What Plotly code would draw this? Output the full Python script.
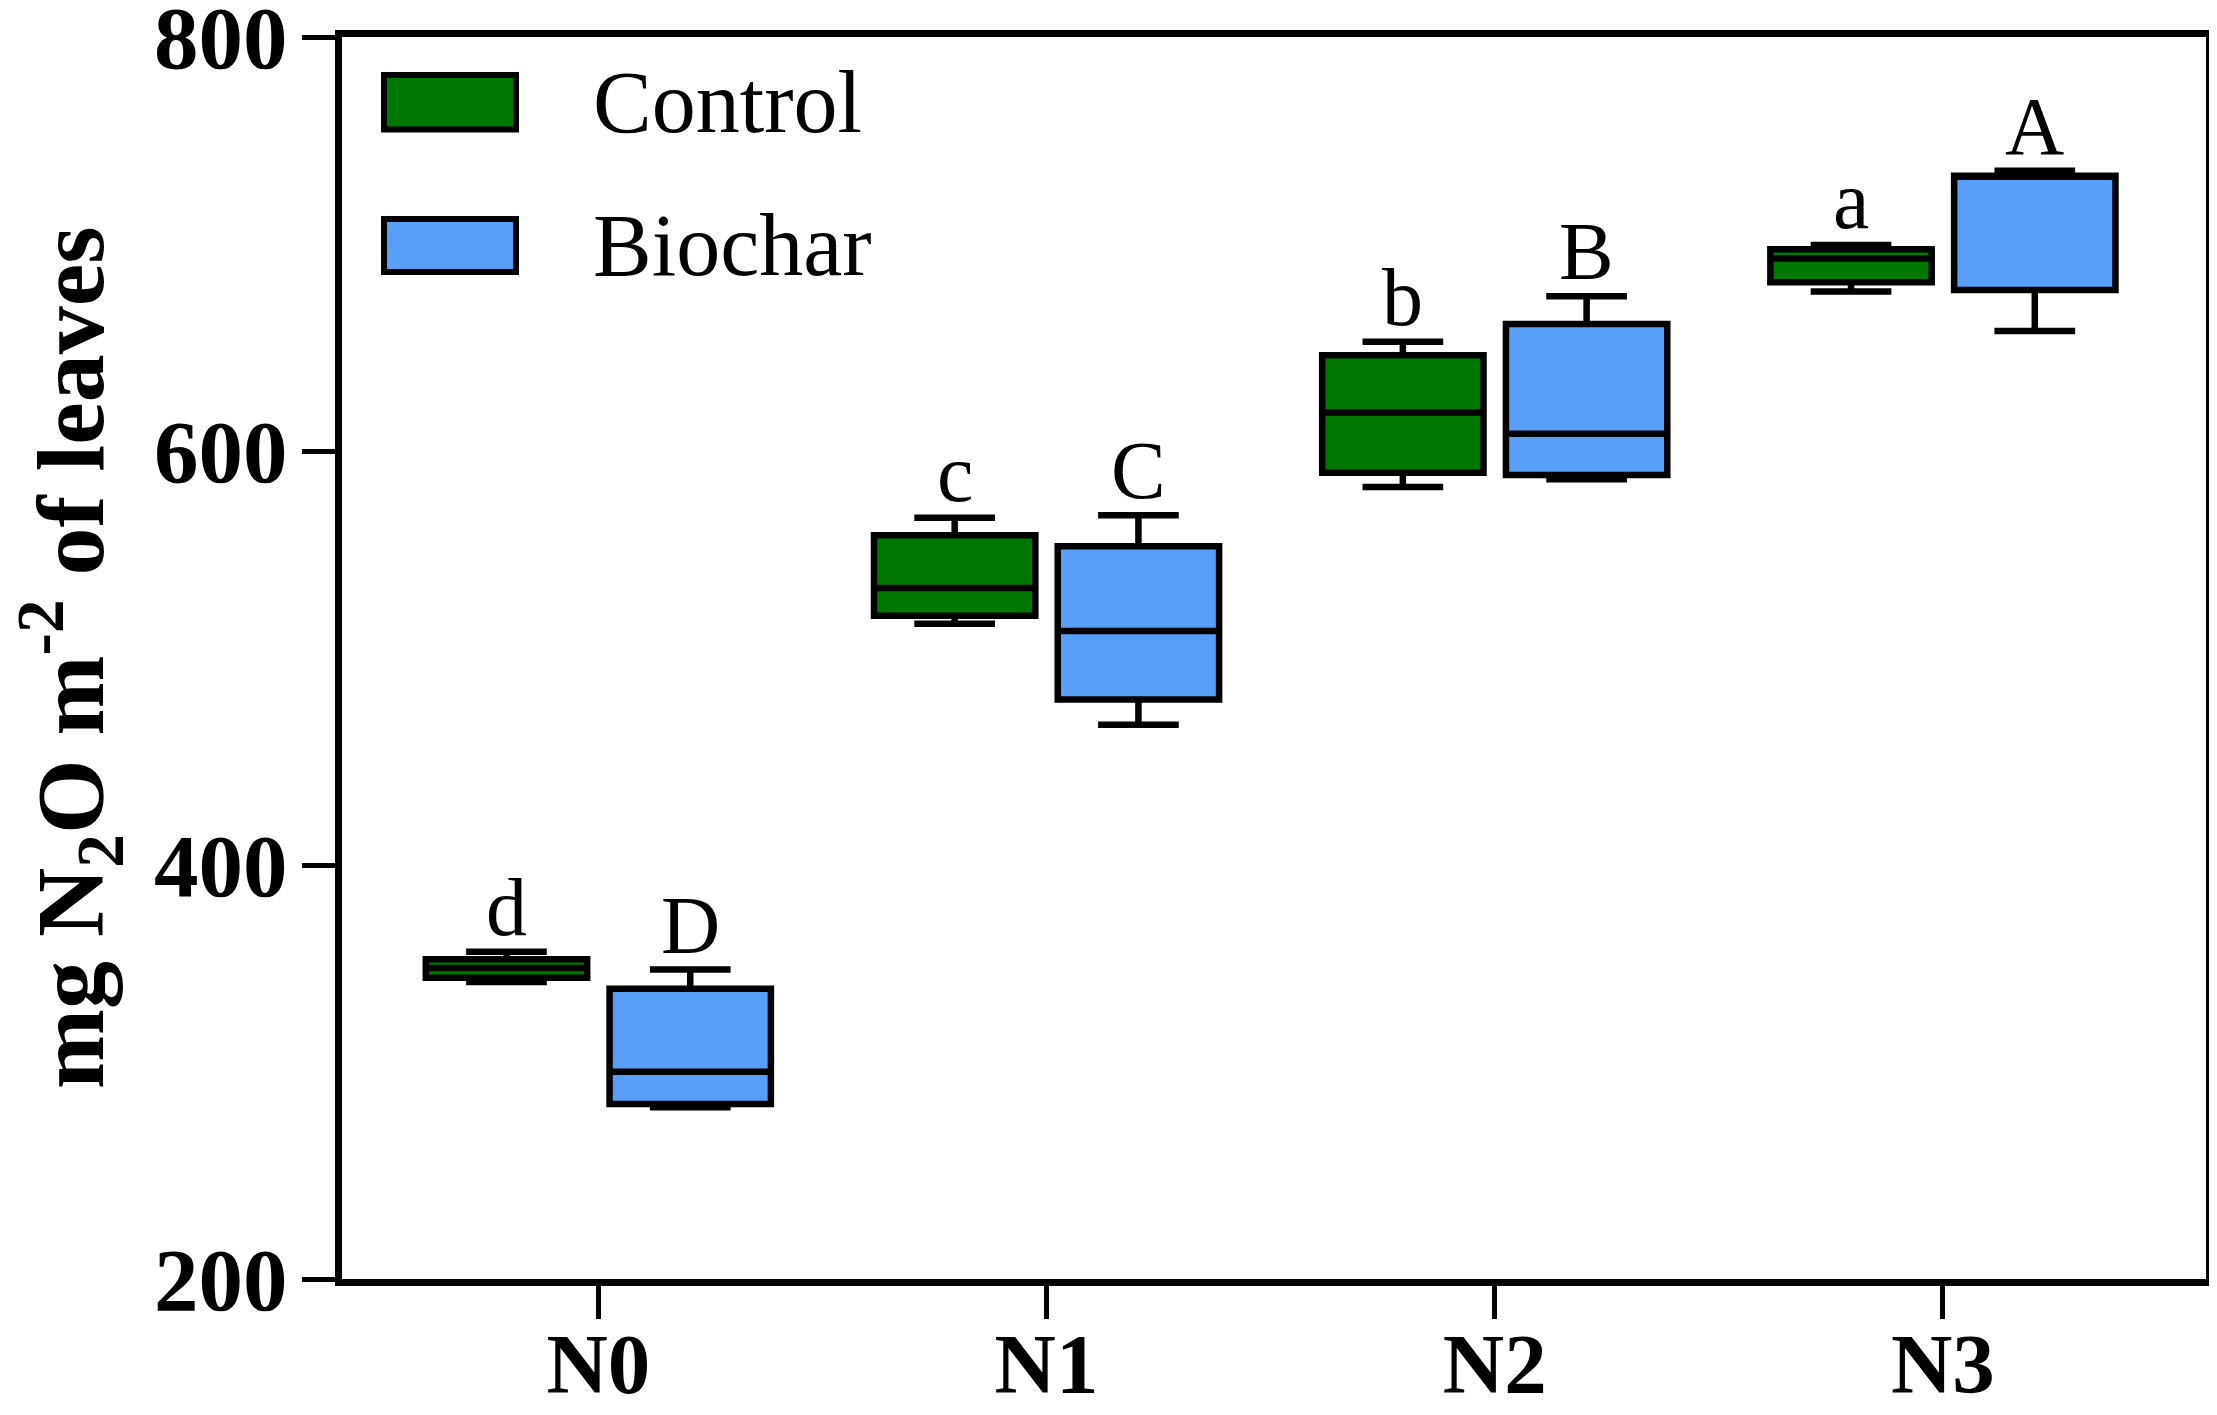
import plotly.graph_objects as go

categories = ["N0", "N1", "N2", "N3"]
groups = ["Control", "Biochar"]

control_min = [343.5, 516.5, 582.6, 677.0]
control_q1 = [345.5, 520.4, 589.5, 681.5]
control_med = [350.3, 533.8, 618.6, 693.0]
control_q3 = [354.5, 559.3, 646.3, 697.5]
control_max = [358.1, 567.7, 652.8, 699.5]

biochar_min = [283.0, 467.7, 586.3, 658.0]
biochar_q1 = [284.6, 480.0, 588.4, 677.8]
biochar_med = [300.1, 513.0, 608.3, 733.0]
biochar_q3 = [340.2, 554.0, 661.4, 733.0]
biochar_max = [349.5, 569.0, 674.8, 735.4]

control_letters = ["d", "c", "b", "a"]
biochar_letters = ["D", "C", "B", "A"]

GREEN = "#007800"
BLUE = "#579FF7"
OFFSET = 0.205
BOXW = 0.36

# page body has an 8px margin; size the figure so the page fits the window
PAGE_PAD = 8
W, H = 2217 - 2 * PAGE_PAD, 1415 - 2 * PAGE_PAD
L = 342 - PAGE_PAD
T = 37 - PAGE_PAD
R = W - (2206 - PAGE_PAD)
B = H - (1279 - PAGE_PAD)
PW = W - L - R
PH = H - T - B

pos = list(range(len(categories)))
xc = [p - OFFSET for p in pos]
xb = [p + OFFSET for p in pos]

fig = go.Figure()
fig.add_trace(go.Box(
    x=xc, q1=control_q1, median=control_med, q3=control_q3,
    lowerfence=control_min, upperfence=control_max,
    name="Control", width=BOXW, whiskerwidth=0.5,
    fillcolor=GREEN, line=dict(color="black", width=6.5),
    boxpoints=False, showlegend=False, hoverinfo="skip"))
fig.add_trace(go.Box(
    x=xb, q1=biochar_q1, median=biochar_med, q3=biochar_q3,
    lowerfence=biochar_min, upperfence=biochar_max,
    name="Biochar", width=BOXW, whiskerwidth=0.5,
    fillcolor=BLUE, line=dict(color="black", width=6.5),
    boxpoints=False, showlegend=False, hoverinfo="skip"))

annotations = []
for x, y, t in zip(xc, control_max, control_letters):
    annotations.append(dict(x=x, y=y, text=t, showarrow=False, xref="x", yref="y",
                            yanchor="bottom", yshift=-3,
                            font=dict(family="Liberation Serif", size=82, color="black")))
for x, y, t in zip(xb, biochar_max, biochar_letters):
    annotations.append(dict(x=x, y=y, text=t, showarrow=False, xref="x", yref="y",
                            yanchor="bottom", yshift=-3,
                            font=dict(family="Liberation Serif", size=82, color="black")))

def px_x(p):
    return (p - PAGE_PAD - L) / PW

def px_y(p):
    return 1 - (p - PAGE_PAD - T) / PH

# Legend (manual)
shapes = []
legend_items = [("Control", GREEN, 75, 129.5), ("Biochar", BLUE, 219, 272)]
for name, col, y0, y1 in legend_items:
    shapes.append(dict(type="rect", xref="paper", yref="paper",
                       x0=px_x(384), x1=px_x(516), y0=px_y(y1), y1=px_y(y0),
                       fillcolor=col, line=dict(color="black", width=6)))
    annotations.append(dict(x=px_x(591), y=px_y((y0 + y1) / 2), xref="paper", yref="paper",
                            text=name, showarrow=False, xanchor="left", yanchor="middle",
                            font=dict(family="Liberation Serif", size=88, color="black")))

annotations.append(dict(x=0, y=0.5, xref="paper", yref="paper", xshift=-272,
                        text="<b>mg N<sub>2</sub>O m<sup>-2</sup> of leaves</b>",
                        textangle=-90, showarrow=False, xanchor="center", yanchor="middle",
                        font=dict(family="Liberation Serif", size=96, color="black")))

fig.update_layout(
    width=W, height=H,
    margin=dict(l=L, r=R, t=T, b=B, pad=0),
    paper_bgcolor="white", plot_bgcolor="white",
    boxmode="overlay",
    shapes=shapes, annotations=annotations,
    xaxis=dict(range=[-0.572, 3.587], tickvals=pos, ticktext=categories,
               automargin=False, ticklabeloverflow="allow",
               showgrid=False, zeroline=False, showline=True, linecolor="black",
               linewidth=6.5, mirror=True, ticks="outside", ticklen=33, tickwidth=5,
               tickcolor="black", ticklabelstandoff=-28,
               tickfont=dict(family="Liberation Serif", size=85, color="black", weight="bold")),
    yaxis=dict(range=[200, 800], tickvals=[200, 400, 600, 800],
               automargin=False, ticklabeloverflow="allow",
               showgrid=False, zeroline=False, showline=True, linecolor="black",
               linewidth=6.5, mirror=True, ticks="outside", ticklen=33, tickwidth=5,
               tickcolor="black", ticklabelstandoff=-3,
               tickfont=dict(family="Liberation Serif", size=89, color="black", weight="bold")),
)

fig.write_html("out.html")
